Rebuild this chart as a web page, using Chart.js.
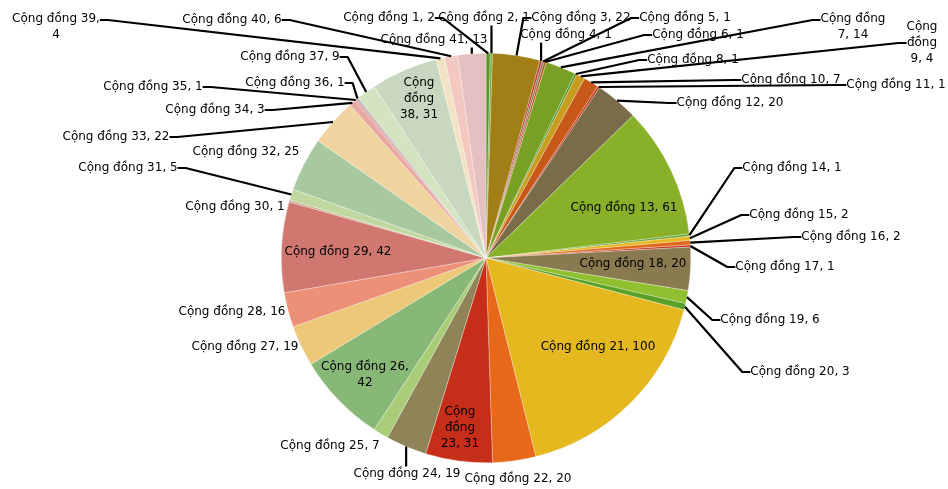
<!DOCTYPE html>
<html lang="vi">
<head>
<meta charset="utf-8">
<title>Cộng đồng</title>
<script src="https://cdn.jsdelivr.net/npm/chart.js@4.4.1/dist/chart.umd.min.js"></script>
<style>
  html, body { margin: 0; padding: 0; background: #fff; }
  #chart { display: block; }
</style>
</head>
<body>
<canvas id="chart" width="948" height="489"></canvas>
<script>
const communities = [
  'Cộng đồng 1', 'Cộng đồng 2', 'Cộng đồng 3', 'Cộng đồng 4', 'Cộng đồng 5',
  'Cộng đồng 6', 'Cộng đồng 7', 'Cộng đồng 8', 'Cộng đồng 9', 'Cộng đồng 10',
  'Cộng đồng 11', 'Cộng đồng 12', 'Cộng đồng 13', 'Cộng đồng 14', 'Cộng đồng 15',
  'Cộng đồng 16', 'Cộng đồng 17', 'Cộng đồng 18', 'Cộng đồng 19', 'Cộng đồng 20',
  'Cộng đồng 21', 'Cộng đồng 22', 'Cộng đồng 23', 'Cộng đồng 24', 'Cộng đồng 25',
  'Cộng đồng 26', 'Cộng đồng 27', 'Cộng đồng 28', 'Cộng đồng 29', 'Cộng đồng 30',
  'Cộng đồng 31', 'Cộng đồng 32', 'Cộng đồng 33', 'Cộng đồng 34', 'Cộng đồng 35',
  'Cộng đồng 36', 'Cộng đồng 37', 'Cộng đồng 38', 'Cộng đồng 39', 'Cộng đồng 40',
  'Cộng đồng 41'
];

const counts = [
  2, 1, 22, 1, 1, 1, 14, 1, 4, 7,
  1, 20, 61, 1, 2, 2, 1, 20, 6, 3,
  100, 20, 31, 19, 7, 42, 19, 16, 42, 1,
  5, 25, 22, 3, 1, 1, 9, 31, 4, 6,
  13
];

const sliceColors = [
  '#5a9a2a', '#6aaa30', '#a27e16', '#c0341a', '#8a7060', '#b8501c', '#78a024', '#4e9424', '#c89c1c', '#c85818',
  '#c03018', '#7a6c48', '#88b028', '#58a030', '#e8b820', '#e06818', '#c83020', '#8a7a50', '#90c030', '#58a028',
  '#e6b820', '#e8681a', '#c62e1a', '#8e8458', '#a8cc78', '#88b878', '#ecc878', '#ec9078', '#d07870', '#c8b090',
  '#c0d8a0', '#a8c8a0', '#f0d4a0', '#e8a8a0', '#d8a0a0', '#c0b0b0', '#d4e4c0', '#c8d8c0', '#f2e2c4', '#f2c8c0',
  '#e4c0c0'
];

// where each label sits: centre of the text block, wrap width, leader line, leader anchor y
const labelSpots = [
  { x: 389, y: 18, lead: true },
  { x: 484, y: 18, lead: true },
  { x: 581, y: 18, lead: true },
  { x: 566, y: 35, lead: true },
  { x: 685, y: 18, lead: true },
  { x: 698, y: 35, lead: true },
  { x: 853, y: 27, w: 75, lead: true, ay: 20 },
  { x: 693, y: 60, lead: true },
  { x: 922, y: 43, w: 45, lead: true },
  { x: 791, y: 80, lead: true },
  { x: 896, y: 85, lead: true },
  { x: 730, y: 103, lead: true },
  { x: 624, y: 208 },
  { x: 792, y: 168, lead: true },
  { x: 799, y: 215, lead: true },
  { x: 851, y: 237, lead: true },
  { x: 785, y: 267, lead: true },
  { x: 633, y: 264 },
  { x: 770, y: 320, lead: true },
  { x: 800, y: 372, lead: true },
  { x: 598, y: 347 },
  { x: 518, y: 479 },
  { x: 460, y: 428, w: 45 },
  { x: 407, y: 474, lead: true },
  { x: 330, y: 446 },
  { x: 365, y: 375, w: 95 },
  { x: 245, y: 347 },
  { x: 232, y: 312 },
  { x: 338, y: 252 },
  { x: 235, y: 207 },
  { x: 128, y: 168, lead: true },
  { x: 246, y: 152 },
  { x: 116, y: 137, lead: true },
  { x: 215, y: 110, lead: true },
  { x: 153, y: 87, lead: true },
  { x: 295, y: 83, lead: true },
  { x: 290, y: 57, lead: true },
  { x: 419, y: 99, w: 45 },
  { x: 56, y: 27, w: 95, lead: true, ay: 20 },
  { x: 232, y: 20, lead: true },
  { x: 434, y: 40, lead: true }
];

const LINE_H = 16;
const ELBOW = 8;

function wrapText(ctx, text, maxWidth) {
  if (!maxWidth) return [text];
  const words = text.split(' ');
  const lines = [];
  let line = words[0];
  for (let k = 1; k < words.length; k++) {
    const test = line + ' ' + words[k];
    if (ctx.measureText(test).width <= maxWidth) {
      line = test;
    } else {
      lines.push(line);
      line = words[k];
    }
  }
  lines.push(line);
  return lines;
}

// labels with leader lines, drawn after the slices
const sliceLabels = {
  id: 'sliceLabels',
  afterDatasetsDraw(chart) {
    const ctx = chart.ctx;
    const arcs = chart.getDatasetMeta(0).data;
    ctx.save();
    ctx.font = '12px "DejaVu Sans"';

    const blocks = arcs.map((arc, i) => {
      const spot = labelSpots[i];
      const lines = wrapText(ctx, communities[i] + ', ' + counts[i], spot.w);
      const width = Math.max(...lines.map(l => ctx.measureText(l).width));
      const height = lines.length * LINE_H;
      return {
        lines, spot,
        left: spot.x - width / 2,
        right: spot.x + width / 2,
        top: spot.y - height / 2 + 0.5,
        bottom: spot.y + height / 2 - 0.5
      };
    });

    // leader lines
    ctx.strokeStyle = '#000';
    ctx.lineWidth = 2.2;
    ctx.lineJoin = 'round';
    arcs.forEach((arc, i) => {
      const b = blocks[i];
      if (!b.spot.lead) return;
      const p = arc.getProps(['x', 'y', 'startAngle', 'endAngle', 'outerRadius'], true);
      const mid = (p.startAngle + p.endAngle) / 2;
      const px = p.x + Math.cos(mid) * p.outerRadius;
      const py = p.y + Math.sin(mid) * p.outerRadius;
      const ay = b.spot.ay !== undefined ? b.spot.ay : b.spot.y;
      ctx.beginPath();
      ctx.moveTo(px, py);
      if (px >= b.left && px <= b.right) {
        ctx.lineTo(px, py > b.bottom ? b.bottom : b.top);
      } else if (px < b.left) {
        ctx.lineTo(b.left - ELBOW, ay);
        ctx.lineTo(b.left, ay);
      } else {
        ctx.lineTo(b.right + ELBOW, ay);
        ctx.lineTo(b.right, ay);
      }
      ctx.stroke();
    });

    // label text
    ctx.fillStyle = '#000';
    ctx.textAlign = 'center';
    ctx.textBaseline = 'middle';
    blocks.forEach(b => {
      const y0 = b.spot.y - (b.lines.length - 1) * LINE_H / 2;
      b.lines.forEach((line, k) => {
        ctx.fillText(line, b.spot.x, y0 + k * LINE_H);
      });
    });
    ctx.restore();
  }
};

new Chart(document.getElementById('chart'), {
  type: 'pie',
  data: {
    labels: communities,
    datasets: [{
      data: counts,
      backgroundColor: sliceColors,
      borderColor: 'rgba(255, 255, 255, 0.6)',
      borderWidth: 0.5
    }]
  },
  options: {
    responsive: false,
    animation: false,
    layout: {
      padding: { top: 53, bottom: 26, left: 24, right: 0 }
    },
    plugins: {
      legend: { display: false },
      tooltip: { enabled: false }
    }
  },
  plugins: [sliceLabels]
});
</script>
</body>
</html>
